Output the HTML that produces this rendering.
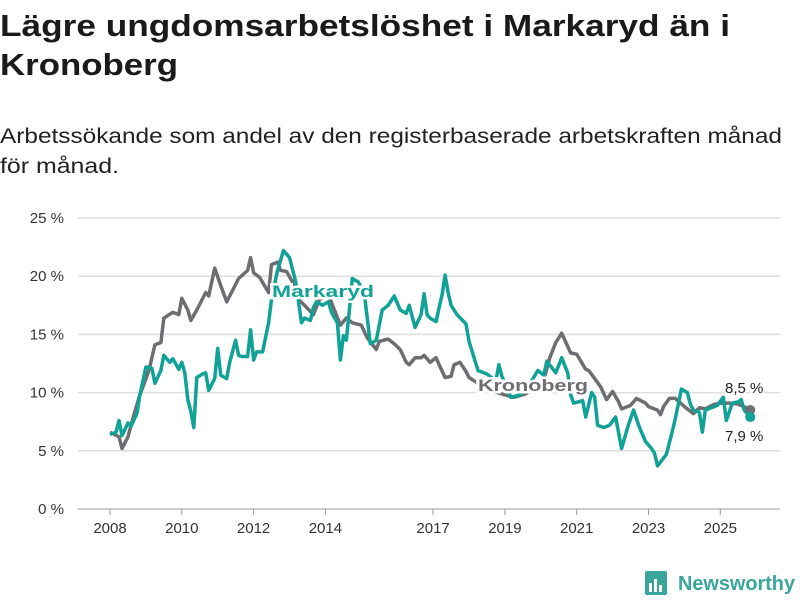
<!DOCTYPE html>
<html><head><meta charset="utf-8">
<style>
html,body{margin:0;padding:0;background:#fff;}
svg{display:block;font-family:"Liberation Sans","DejaVu Sans",sans-serif;}
</style></head>
<body>
<svg id="chart" width="800" height="600" viewBox="0 0 800 600">
  <text x="0" y="36" font-size="31" font-weight="bold" fill="#1a1a1a" textLength="730" lengthAdjust="spacingAndGlyphs">Lägre ungdomsarbetslöshet i Markaryd än i</text>
  <text x="0" y="75" font-size="31" font-weight="bold" fill="#1a1a1a" textLength="178" lengthAdjust="spacingAndGlyphs">Kronoberg</text>
  <text x="0" y="143" font-size="21" fill="#222" textLength="782" lengthAdjust="spacingAndGlyphs">Arbetssökande som andel av den registerbaserade arbetskraften månad</text>
  <text x="0" y="173" font-size="21" fill="#222" textLength="119" lengthAdjust="spacingAndGlyphs">för månad.</text>
  <g id="grid"></g>
  <g id="xaxis"></g>
  <g id="series"></g>
  <g id="labels"></g>
  <g>
    <rect x="645" y="571" width="22" height="24" rx="2" fill="#3aa59a"/>
    <rect x="649" y="583" width="3" height="9" fill="#fff"/>
    <rect x="654" y="579" width="3" height="13" fill="#fff"/>
    <rect x="659" y="585" width="3" height="7" fill="#fff"/>
    <text x="678" y="590" font-size="20" font-weight="bold" fill="#3aa59a" textLength="117" lengthAdjust="spacingAndGlyphs">Newsworthy</text>
  </g>
</svg>
<script>
const yTicks = [0, 5, 10, 15, 20, 25];
const yTickLabels = ["0 %", "5 %", "10 %", "15 %", "20 %", "25 %"];
const xTickYears = [2008, 2010, 2012, 2014, 2017, 2019, 2021, 2023, 2025];
const kronMonths = [0,3,4,6,8,10,13,15,17,18,21,23,24,26,27,29,32,33,35,37,39,41,43,46,47,48,50,53,54,56,57,59,61,63,65,68,70,73,75,77,79,81,84,86,89,90,93,95,97,99,100,102,104,105,107,109,110,112,114,115,117,119,120,123,127,132,135,139,142,145,147,149,151,154,156,159,160,162,164,166,168,170,171,174,176,179,180,183,184,185,187,189,192,195,197,199,202,205,207,210,212,214];
const kronValues = [6.6,6.2,5.2,6.2,8.1,9.8,11.9,14.1,14.3,16.4,16.9,16.7,18.1,17.1,16.2,17.1,18.6,18.3,20.7,19.2,17.8,18.8,19.8,20.5,21.6,20.3,19.9,18.6,21.0,21.2,20.5,20.4,19.5,18.0,17.5,16.7,18.0,18.4,17.1,15.8,16.4,16.0,15.8,14.7,13.7,14.4,14.6,14.2,13.7,12.6,12.4,13.0,13.0,13.2,12.6,13.0,12.4,11.3,11.4,12.4,12.6,11.8,11.3,10.8,10.2,9.8,9.6,9.9,10.4,11.1,13.0,14.3,15.1,13.4,13.3,12.0,11.9,11.2,10.5,9.4,10.1,9.2,8.6,8.9,9.5,9.1,8.8,8.5,8.1,8.8,9.5,9.5,8.8,8.2,8.7,8.6,9.0,9.1,9.1,9.0,8.8,8.5];
const markMonths = [0,2,3,4,6,7,9,10,12,14,15,17,18,20,21,23,24,25,26,27,28,29,31,32,33,35,36,37,39,40,42,43,44,46,47,48,49,51,53,54,56,58,60,62,64,65,67,68,69,71,73,74,76,77,78,79,80,81,83,85,86,87,89,91,93,95,97,99,100,102,104,105,106,107,109,110,111,112,113,114,116,119,120,123,126,129,130,131,134,137,140,143,145,146,149,151,153,154,155,158,159,161,162,163,165,167,169,171,173,175,177,179,181,182,183,186,188,189,191,193,194,195,197,198,199,201,203,205,206,208,210,211,212,213,214];
const markValues = [6.4,6.6,7.6,6.3,7.4,7.1,8.2,9.8,12.2,12.1,10.8,11.9,13.2,12.6,12.9,12.0,12.6,11.7,9.4,8.4,7.0,11.3,11.6,11.7,10.2,11.2,13.8,11.5,11.2,12.6,14.5,13.2,13.1,13.1,15.4,12.8,13.5,13.5,16.0,18.0,20.5,22.2,21.6,19.6,16.0,16.4,16.2,17.3,17.8,17.5,17.8,16.9,16.0,12.8,14.9,14.5,17.0,19.8,19.5,18.5,16.4,14.2,14.5,17.1,17.5,18.3,17.1,16.8,17.5,15.6,16.7,18.5,16.7,16.4,16.1,17.3,18.4,20.1,18.6,17.5,16.7,15.9,14.4,11.9,11.6,11.0,12.4,11.4,9.6,9.8,10.6,11.9,11.5,12.7,11.7,13.0,11.7,9.8,9.1,9.3,7.9,10.0,9.6,7.2,7.0,7.2,7.9,5.2,7.0,8.5,7.0,5.8,5.2,4.8,3.7,4.7,6.7,7.8,10.3,10.0,9.0,8.5,8.3,6.6,8.5,8.7,8.9,9.6,7.6,9.1,9.2,9.4,8.5,8.2,7.9];

const NS = "http://www.w3.org/2000/svg";
const X0 = 110, PX_PER_YEAR = 35.9, Y0 = 509, PX_PER_PCT = 11.64;
function xMonth(m){ return X0 + m * PX_PER_YEAR / 12; }
function xYear(y){ return X0 + (y - 2008) * PX_PER_YEAR; }
function yVal(v){ return Y0 - v * PX_PER_PCT; }
function mk(tag, attrs, parent){
  const e = document.createElementNS(NS, tag);
  for (const k in attrs) e.setAttribute(k, attrs[k]);
  parent.appendChild(e); return e;
}
const grid = document.getElementById('grid');
yTicks.forEach((t, i) => {
  const l = mk('line', {x1:78, x2:780, y1:yVal(t), y2:yVal(t), stroke: t===0 ? '#bbb' : '#dedede', 'stroke-width':1.5}, grid);
  
  
  const tx = mk('text', {x:64, y:yVal(t)+5, 'font-size':15, fill:'#333', 'text-anchor':'end'}, grid);
  tx.textContent = yTickLabels[i];
  
  
});
const xa = document.getElementById('xaxis');
xTickYears.forEach(yr => {
  const l = mk('line', {x1:xYear(yr), x2:xYear(yr), y1:509, y2:515, stroke:'#999', 'stroke-width':1}, xa);
  
  
  const tx = mk('text', {x:xYear(yr), y:533, 'font-size':15, fill:'#333', 'text-anchor':'middle'}, xa);
  tx.textContent = String(yr);
  
  
});
const ser = document.getElementById('series');
function pathD(ms, vs){ return ms.map((m,i)=>(i?'L':'M')+xMonth(m).toFixed(1)+','+yVal(vs[i]).toFixed(1)).join(''); }
const kp = mk('path', {d:pathD(kronMonths,kronValues), fill:'none', stroke:'#6e6d72', 'stroke-width':3.5, 'stroke-linejoin':'round'}, ser);


const mp = mk('path', {d:pathD(markMonths,markValues), fill:'none', stroke:'#10a296', 'stroke-width':3.5, 'stroke-linejoin':'round'}, ser);


const kl = kronMonths.length - 1, ml = markMonths.length - 1;
const kd = mk('circle', {cx:xMonth(kronMonths[kl]), cy:yVal(kronValues[kl]), r:5, fill:'#6e6d72'}, ser);


const md = mk('circle', {cx:xMonth(markMonths[ml]), cy:yVal(markValues[ml]), r:5, fill:'#10a296'}, ser);


const lab = document.getElementById('labels');
function label(txt, x, y, attrs, name){
  const t = mk('text', Object.assign({x:x, y:y, 'font-size':17}, attrs), lab);
  t.textContent = txt;
  
  
}
label('Markaryd', 272, 297, {'font-weight':'bold', fill:'#10a296', stroke:'#fff', 'stroke-width':5, 'paint-order':'stroke', textLength:102, lengthAdjust:'spacingAndGlyphs'}, 'markaryd-label');
label('Kronoberg', 478, 391, {'font-weight':'bold', fill:'#6e6d72', stroke:'#fff', 'stroke-width':5, 'paint-order':'stroke', textLength:110, lengthAdjust:'spacingAndGlyphs'}, 'kronoberg-label');
label('8,5 %', 725, 393, {'font-size':15, fill:'#222', stroke:'#fff', 'stroke-width':4, 'paint-order':'stroke'}, 'kronoberg-end-value');
label('7,9 %', 725, 441, {'font-size':15, fill:'#222', stroke:'#fff', 'stroke-width':4, 'paint-order':'stroke'}, 'markaryd-end-value');
</script>
</body></html>
